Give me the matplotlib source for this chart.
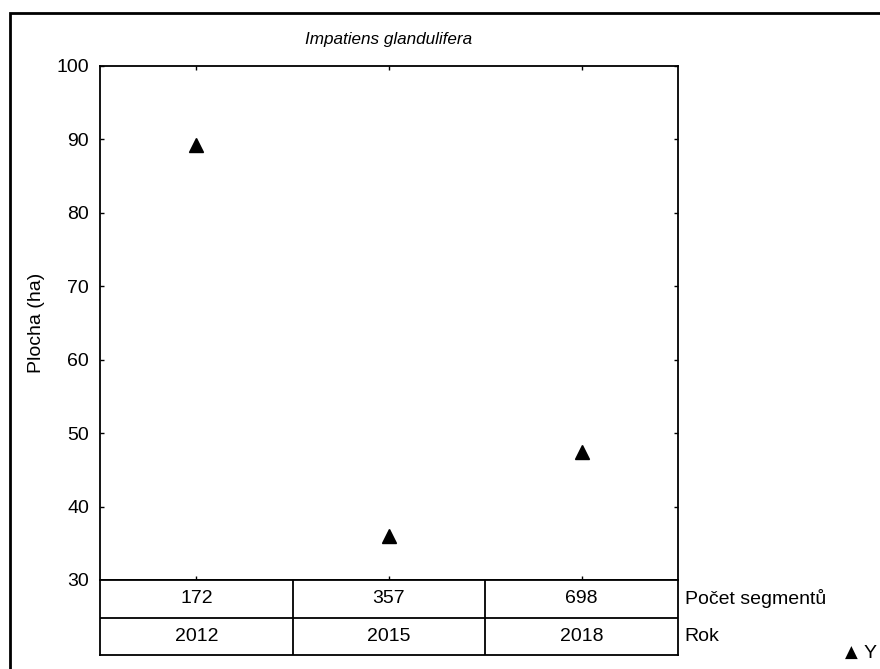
import matplotlib
matplotlib.use("Agg")
import matplotlib.pyplot as plt
from matplotlib.patches import Rectangle

plt.rcParams['font.family'] = ['Liberation Sans', 'DejaVu Sans']

years = ["2012", "2015", "2018"]
segments = ["172", "357", "698"]
area = [89.2, 36.0, 47.4]
row_labels = ["Počet segmentů", "Rok"]
title = "Impatiens glandulifera"

FS = 14
W, H = 880, 669
fig = plt.figure(figsize=(W / 100, H / 100), dpi=100)

def fx(px):
    return px / W

def fy(py):
    return 1 - py / H

# outer frame (cut on the right/bottom)
fig.add_artist(Rectangle((fx(10), fy(700)), fx(900), fy(13) - fy(700),
                         transform=fig.transFigure, fill=False, lw=2, ec='black'))

L, R, T, B = 100, 678, 66, 580
ax = fig.add_axes([fx(L), fy(B), fx(R) - fx(L), fy(T) - fy(B)])
n = len(years)
xs = [i + 0.5 for i in range(n)]
ax.plot(xs, area, linestyle='none', marker='^', color='black', markersize=10)
ax.set_xlim(0, n)
ax.set_ylim(30, 100)
ax.set_yticks(range(30, 101, 10))
ax.set_xticks(xs)
ax.set_xticklabels([])
ax.tick_params(axis='both', direction='in', length=3, width=1, labelsize=FS,
               top=True, right=True, bottom=True, left=True)
ax.tick_params(axis='y', pad=8)
for s in ax.spines.values():
    s.set_linewidth(1.3)
ax.set_ylabel("Plocha (ha)", fontsize=FS, labelpad=8)
ax.set_title(title, fontsize=12.3, style='italic', pad=16)

# table below
TB = 655
tax = fig.add_axes([fx(L), fy(TB), fx(R) - fx(L), fy(B) - fy(TB)])
tax.set_xlim(0, n)
tax.set_ylim(0, 2)
tax.set_xticks([])
tax.set_yticks([])
for s in tax.spines.values():
    s.set_linewidth(1.3)
tax.axhline(1, color='black', lw=1.3)
for i in range(1, n):
    tax.axvline(i, color='black', lw=1.3)
for i in range(n):
    tax.text(xs[i], 1.5, segments[i], ha='center', va='center', fontsize=FS)
    tax.text(xs[i], 0.5, years[i], ha='center', va='center', fontsize=FS)
for j, lab in enumerate(row_labels):
    tax.text(n + 0.035, 1.5 - j, lab, ha='left', va='center', fontsize=FS)

# legend
fig.text(fx(845), fy(653), "▲", ha='left', va='center', fontsize=12,
         family=['DejaVu Sans'])
fig.text(fx(864), fy(653), "Y", ha='left', va='center', fontsize=FS)

fig.savefig("out.png", dpi=100)
